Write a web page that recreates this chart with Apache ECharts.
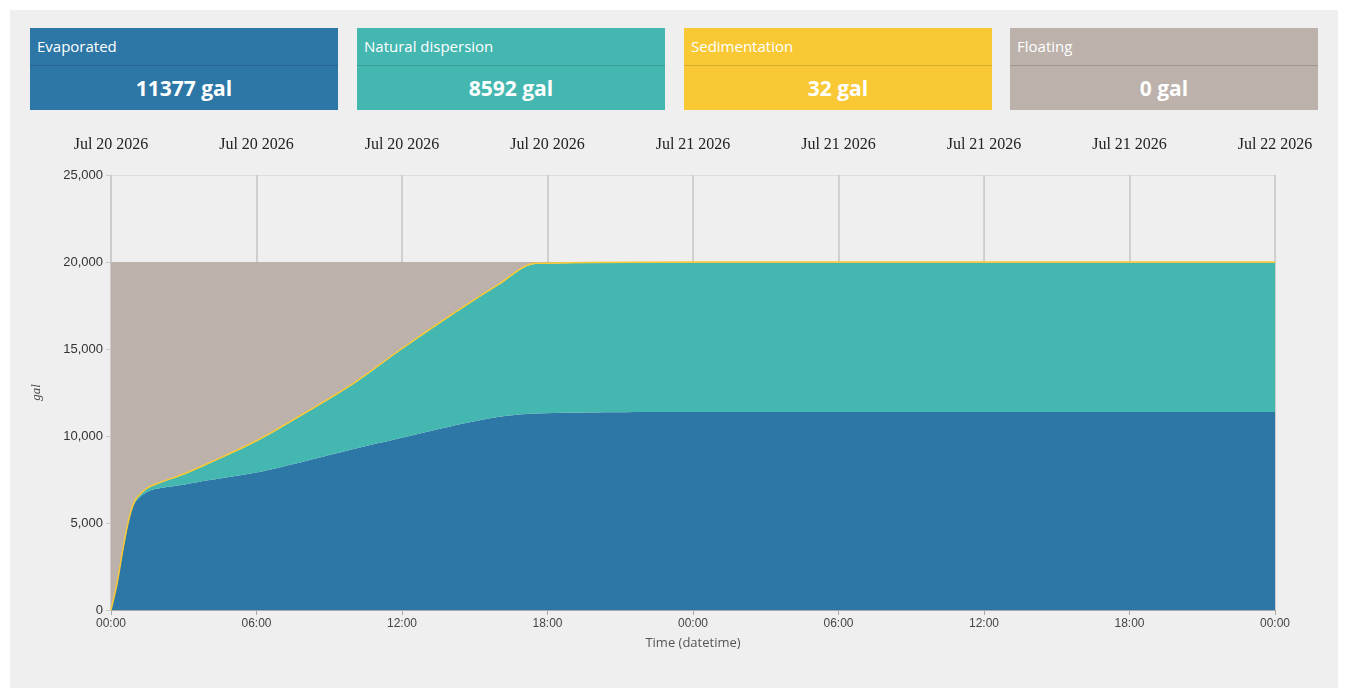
<!DOCTYPE html>
<html>
<head>
<meta charset="utf-8">
<script src="https://cdn.jsdelivr.net/npm/echarts@6/dist/echarts.min.js"></script>
<style>
  body { margin: 0; background: #fff; font-family: "Open Sans", sans-serif; }
  .panel { position: absolute; left: 10px; top: 10px; width: 1328px; height: 678px; background: #efefef; }
  .box { position: absolute; top: 18px; width: 308px; height: 82px; color: #fff; }
  .box .h { height: 37px; line-height: 37px; padding-left: 7px; font-size: 15px; border-bottom: 1px solid rgba(0,0,0,0.15); }
  .box .v { text-align: center; font-weight: 700; font-size: 21px; line-height: 44px; }
  #chart { position: absolute; left: 0; top: 0; width: 1347px; height: 698px; }
</style>
</head>
<body>
<div class="panel"></div>
<div id="boxes"></div>
<div id="chart"></div>
<script>
const labels = ['Evaporated', 'Natural dispersion', 'Sedimentation', 'Floating']
const colors = ['#2d77a7', '#44b7b1', '#f8c935', '#bcb1ab']
const totals = [11377, 8592, 32, 0]
const spill = 20000

// hours since Jul 20 2026 00:00
const hours =       [0,   0.25, 0.5,  0.75, 1,    1.5,  2,    3,    4,    6,    8,    10,   12,   14,    16,    17.5,  24,    48]
const evaporated =  [0,   1500, 3500, 5200, 6200, 6800, 7000, 7200, 7450, 7900, 8550, 9250, 9900, 10550, 11100, 11300, 11377, 11377]
const dispersion =  [0,   20,   50,   80,   100,  200,  300,  600,  950,  1800, 2750, 3750, 5100, 6350,  7600,  8592,  8592,  8592]
const sediment =    [0,   2,    4,    6,    8,    12,   15,   20,   22,   25,   27,   28,   29,   30,    31,    32,    32,    32]

const boxLeft = [30, 357, 684, 1010]
document.getElementById('boxes').innerHTML = labels.map((l, i) =>
  `<div class="box" style="left:${boxLeft[i]}px;top:28px;background:${colors[i]}"><div class="h">${l}</div><div class="v">${totals[i]} gal</div></div>`
).join('')

const t0 = Date.UTC(2026, 6, 20)
const H = 3600 * 1000
const ts = hours.map(h => t0 + h * H)
const floating = hours.map((h, i) => Math.max(0, spill - evaporated[i] - dispersion[i] - sediment[i]))
const seriesData = [evaporated, dispersion, sediment, floating]

const chart = echarts.init(document.getElementById('chart'))
const mon = ['Jan','Feb','Mar','Apr','May','Jun','Jul','Aug','Sep','Oct','Nov','Dec']
chart.setOption({
  useUTC: true,
  animation: false,
  grid: { left: 111, right: 72, top: 175, bottom: 88 },
  xAxis: [{
    type: 'time', min: t0, max: t0 + 48 * H, interval: 4 * H,
    name: 'Time (datetime)', nameLocation: 'middle', nameGap: 27,
    nameTextStyle: { color: '#555', fontSize: 13, fontFamily: 'Open Sans' },
    axisLine: { lineStyle: { color: '#aaa' } },
    axisTick: { show: true, lineStyle: { color: '#aaa' } },
    axisLabel: {
      color: '#444', fontSize: 12, fontFamily: 'Liberation Sans', showMinLabel: true, showMaxLabel: true,
      formatter: v => { const d = new Date(v); return String(d.getUTCHours()).padStart(2, '0') + ':00' }
    },
    splitLine: { show: true, lineStyle: { color: '#dcdcdc' } }
  }, {
    type: 'time', position: 'top', min: t0, max: t0 + 48 * H, interval: 24 * H,
    axisLine: { show: false }, axisTick: { show: false },
    splitLine: { show: true, lineStyle: { color: '#c8c8c8', width: 1.5 } },
    axisLabel: {
      color: '#222', fontSize: 16, fontFamily: 'Liberation Serif', margin: 22, showMinLabel: true, showMaxLabel: true,
      formatter: v => { const d = new Date(v); return mon[d.getUTCMonth()] + ' ' + d.getUTCDate() + ' ' + d.getUTCFullYear() }
    }
  }],
  yAxis: {
    type: 'value', min: 0, max: 25000, interval: 5000,
    name: 'gal', nameLocation: 'middle', nameGap: 68, nameRotate: 90,
    nameTextStyle: { color: '#444', fontSize: 13, fontFamily: 'Liberation Serif', fontStyle: 'italic' },
    axisLine: { show: true, lineStyle: { color: '#ccc' } },
    axisTick: { show: true, lineStyle: { color: '#ccc' } },
    axisLabel: { color: '#333', fontSize: 13, fontFamily: 'Liberation Sans' },
    splitLine: { lineStyle: { color: '#dcdcdc' } }
  },
  series: labels.map((name, i) => ({
    name, type: 'line', stack: 'total', smooth: 0.3, symbol: 'none',
    data: ts.map((t, j) => [t, seriesData[i][j]]),
    lineStyle: { width: i === 2 ? 1.5 : 0, color: colors[i] },
    areaStyle: { color: colors[i], opacity: 1 },
    itemStyle: { color: colors[i] }
  }))
})
</script>
</body>
</html>
